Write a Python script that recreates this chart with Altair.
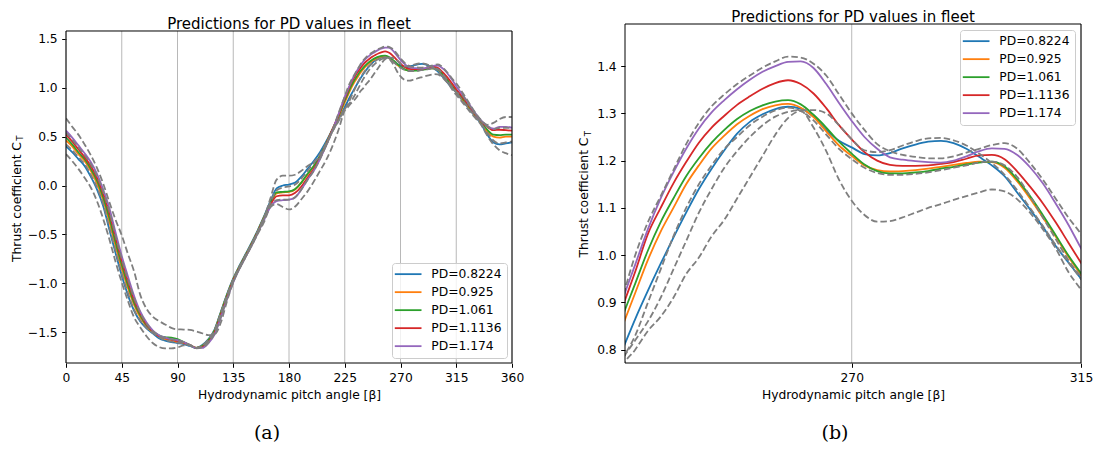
import altair as alt
import pandas as pd

# ---------------- data ----------------
angle = [0, 5, 10, 15, 20, 25, 30, 35, 40, 45, 50, 55, 60, 65, 70, 75, 80, 85, 90, 95,
         100, 105, 110, 115, 120, 125, 130, 135, 140, 145, 150, 155, 160, 165, 170, 175,
         180, 185, 190, 195, 200, 205, 210, 215, 220, 225,
         227.5, 230, 232.5, 235, 237.5, 240, 242.5, 245, 247.5, 250, 252.5, 255, 257.5,
         260, 262.5, 265, 267.5, 270, 272.5, 275, 277.5, 280, 282.5, 285, 287.5, 290,
         292.5, 295, 297.5, 300, 302.5, 305, 307.5, 310, 312.5, 315,
         320, 325, 330, 335, 340, 345, 350, 355, 360]

pd_08224 = [0.40, 0.34, 0.27, 0.20, 0.09, -0.04, -0.21, -0.45, -0.69, -0.92,
            -1.12, -1.28, -1.39, -1.46, -1.51, -1.56, -1.585, -1.60, -1.61, -1.62,
            -1.64, -1.66, -1.63, -1.57, -1.47, -1.29, -1.11, -0.95, -0.82, -0.70,
            -0.58, -0.45, -0.31, -0.16, -0.03, 0.00, 0.01, 0.03, 0.09, 0.17,
            0.25, 0.34, 0.45, 0.57, 0.68, 0.80,
            0.865, 0.925, 0.982, 1.037, 1.09, 1.14, 1.183, 1.222, 1.257, 1.282, 1.298, 1.309,
            1.314, 1.31, 1.293, 1.265, 1.242, 1.228, 1.214, 1.211, 1.216, 1.226, 1.234, 1.240,
            1.242, 1.237, 1.225, 1.208, 1.19, 1.167, 1.132, 1.097, 1.06, 1.02, 0.985, 0.95,
            0.87, 0.79, 0.71, 0.63, 0.52, 0.44, 0.42, 0.43, 0.44]

pd_0925 = [0.46, 0.40, 0.32, 0.25, 0.15, 0.02, -0.15, -0.37, -0.62, -0.85,
           -1.05, -1.22, -1.35, -1.44, -1.50, -1.54, -1.57, -1.58, -1.60, -1.61,
           -1.63, -1.66, -1.64, -1.58, -1.48, -1.30, -1.12, -0.96, -0.83, -0.71,
           -0.59, -0.46, -0.32, -0.19, -0.08, -0.07, -0.065, -0.04, 0.03, 0.11,
           0.20, 0.30, 0.43, 0.57, 0.70, 0.85,
           0.92, 0.99, 1.05, 1.10, 1.15, 1.19, 1.226, 1.253, 1.277, 1.295, 1.309, 1.317,
           1.320, 1.312, 1.292, 1.262, 1.232, 1.21, 1.19, 1.18, 1.177, 1.178, 1.180, 1.183,
           1.187, 1.191, 1.195, 1.198, 1.197, 1.185, 1.156, 1.12, 1.08, 1.04, 0.997, 0.958,
           0.88, 0.80, 0.72, 0.645, 0.55, 0.50, 0.49, 0.50, 0.50]

pd_1061 = [0.49, 0.42, 0.34, 0.27, 0.17, 0.05, -0.12, -0.33, -0.58, -0.81,
           -1.02, -1.20, -1.33, -1.43, -1.49, -1.53, -1.55, -1.555, -1.57, -1.60,
           -1.63, -1.66, -1.64, -1.58, -1.48, -1.30, -1.12, -0.96, -0.83, -0.71,
           -0.59, -0.46, -0.32, -0.18, -0.07, -0.065, -0.06, -0.035, 0.03, 0.12,
           0.20, 0.30, 0.43, 0.57, 0.71, 0.87,
           0.94, 1.01, 1.07, 1.12, 1.167, 1.205, 1.238, 1.265, 1.288, 1.305, 1.317, 1.325,
           1.328, 1.319, 1.297, 1.27, 1.24, 1.215, 1.192, 1.178, 1.173, 1.173, 1.175, 1.178,
           1.183, 1.187, 1.192, 1.196, 1.198, 1.188, 1.16, 1.125, 1.085, 1.043, 1.0, 0.962,
           0.89, 0.81, 0.725, 0.65, 0.57, 0.52, 0.515, 0.52, 0.52]

pd_11136 = [0.52, 0.45, 0.37, 0.29, 0.20, 0.08, -0.08, -0.28, -0.53, -0.77,
            -0.98, -1.17, -1.31, -1.42, -1.49, -1.54, -1.56, -1.575, -1.59, -1.605,
            -1.63, -1.66, -1.65, -1.60, -1.50, -1.32, -1.14, -0.97, -0.84, -0.72,
            -0.60, -0.47, -0.33, -0.20, -0.11, -0.10, -0.10, -0.075, -0.01, 0.08,
            0.17, 0.28, 0.42, 0.57, 0.72, 0.89,
            0.965, 1.045, 1.10, 1.152, 1.197, 1.238, 1.27, 1.295, 1.318, 1.336, 1.352, 1.364,
            1.370, 1.362, 1.342, 1.311, 1.275, 1.245, 1.218, 1.200, 1.191, 1.189, 1.189, 1.190,
            1.193, 1.197, 1.204, 1.211, 1.212, 1.203, 1.177, 1.145, 1.11, 1.07, 1.027, 0.984,
            0.905, 0.82, 0.73, 0.655, 0.60, 0.565, 0.57, 0.565, 0.56]

pd_1174 = [0.56, 0.49, 0.41, 0.33, 0.24, 0.12, -0.04, -0.23, -0.48, -0.72,
           -0.93, -1.13, -1.29, -1.40, -1.48, -1.53, -1.555, -1.57, -1.58, -1.60,
           -1.63, -1.66, -1.66, -1.61, -1.52, -1.35, -1.16, -0.99, -0.85, -0.73,
           -0.61, -0.48, -0.35, -0.22, -0.16, -0.15, -0.145, -0.12, -0.04, 0.06,
           0.15, 0.27, 0.41, 0.56, 0.73, 0.905,
           0.98, 1.055, 1.12, 1.175, 1.225, 1.268, 1.302, 1.328, 1.351, 1.371, 1.388, 1.400,
           1.409, 1.410, 1.396, 1.362, 1.322, 1.284, 1.25, 1.225, 1.207, 1.202, 1.199, 1.197,
           1.196, 1.200, 1.209, 1.220, 1.226, 1.225, 1.212, 1.186, 1.152, 1.11, 1.065, 1.015,
           0.93, 0.84, 0.745, 0.665, 0.61, 0.58, 0.60, 0.60, 0.59]

dash_upper = [0.687, 0.60, 0.52, 0.42, 0.31, 0.18, 0.02, -0.17, -0.35, -0.51,
              -0.70, -0.88, -1.12, -1.26, -1.34, -1.385, -1.42, -1.455, -1.47, -1.472,
              -1.476, -1.49, -1.51, -1.53, -1.52, -1.40, -1.18, -0.99, -0.85, -0.73,
              -0.61, -0.48, -0.33, -0.13, 0.06, 0.10, 0.10, 0.11, 0.15, 0.20,
              0.24, 0.30, 0.41, 0.56, 0.74, 0.91,
              1.0, 1.07, 1.125, 1.18, 1.235, 1.28, 1.315, 1.34, 1.362, 1.38, 1.397, 1.41,
              1.42, 1.418, 1.405, 1.38, 1.34, 1.30, 1.265, 1.235, 1.22, 1.212, 1.208, 1.205,
              1.205, 1.209, 1.217, 1.225, 1.233, 1.237, 1.225, 1.195, 1.16, 1.12, 1.08, 1.045,
              0.95, 0.85, 0.75, 0.67, 0.62, 0.64, 0.68, 0.70, 0.70]

dash_lower = [0.32, 0.25, 0.17, 0.08, -0.02, -0.16, -0.34, -0.55, -0.78, -0.99,
              -1.18, -1.35, -1.45, -1.54, -1.61, -1.65, -1.665, -1.665, -1.655, -1.635,
              -1.63, -1.665, -1.65, -1.60, -1.50, -1.33, -1.15, -0.98, -0.85, -0.73,
              -0.61, -0.49, -0.37, -0.22, -0.19, -0.22, -0.245, -0.215, -0.14, -0.06,
              0.04, 0.15, 0.26, 0.40, 0.57, 0.765,
              0.80, 0.84, 0.87, 0.91, 0.96, 0.995, 1.04, 1.075, 1.12, 1.165, 1.21, 1.255,
              1.29, 1.305, 1.27, 1.22, 1.16, 1.115, 1.085, 1.071, 1.072, 1.08, 1.09, 1.10,
              1.108, 1.117, 1.125, 1.133, 1.139, 1.135, 1.118, 1.09, 1.055, 1.015, 0.965, 0.927,
              0.85, 0.77, 0.695, 0.62, 0.51, 0.42, 0.36, 0.33, 0.31]

dash_mid_low = [0.42, 0.36, 0.29, 0.22, 0.11, -0.02, -0.19, -0.43, -0.67, -0.90,
                -1.10, -1.27, -1.38, -1.455, -1.505, -1.55, -1.58, -1.595, -1.605, -1.615,
                -1.635, -1.66, -1.635, -1.575, -1.475, -1.30, -1.12, -0.96, -0.83, -0.71,
                -0.59, -0.46, -0.32, -0.17, -0.05, -0.02, -0.01, 0.01, 0.07, 0.15,
                0.23, 0.32, 0.43, 0.55, 0.66, 0.78,
                0.82, 0.86, 0.91, 0.97, 1.03, 1.09, 1.14, 1.185, 1.22, 1.25, 1.275, 1.293,
                1.303, 1.307, 1.307, 1.30, 1.275, 1.245, 1.222, 1.218, 1.222, 1.232, 1.241, 1.247,
                1.248, 1.243, 1.232, 1.215, 1.195, 1.17, 1.137, 1.10, 1.062, 1.022, 0.985, 0.95,
                0.87, 0.79, 0.71, 0.635, 0.54, 0.46, 0.43, 0.44, 0.45]

dash_mid_high = [0.54, 0.47, 0.39, 0.31, 0.22, 0.10, -0.06, -0.26, -0.51, -0.75,
                 -0.96, -1.15, -1.30, -1.41, -1.485, -1.535, -1.56, -1.57, -1.585, -1.60,
                 -1.63, -1.66, -1.655, -1.605, -1.51, -1.34, -1.15, -0.98, -0.845, -0.725,
                 -0.605, -0.475, -0.34, -0.21, -0.15, -0.145, -0.145, -0.12, -0.04, 0.06,
                 0.15, 0.27, 0.41, 0.55, 0.66, 0.78,
                 0.83, 0.90, 0.97, 1.04, 1.10, 1.15, 1.19, 1.225, 1.25, 1.275, 1.293, 1.306,
                 1.312, 1.305, 1.285, 1.255, 1.225, 1.203, 1.185, 1.174, 1.170, 1.170, 1.172, 1.175,
                 1.18, 1.185, 1.19, 1.196, 1.198, 1.19, 1.165, 1.125, 1.08, 1.035, 0.99, 0.955,
                 0.92, 0.83, 0.74, 0.66, 0.605, 0.575, 0.59, 0.59, 0.585]

series_names = ["PD=0.8224", "PD=0.925", "PD=1.061", "PD=1.1136", "PD=1.174"]
series_colors = ["#1f77b4", "#ff7f0e", "#2ca02c", "#d62728", "#9467bd"]
a_ticks = [0, 45, 90, 135, 180, 225, 270, 315, 360]
a_yticks = [-1.5, -1.0, -0.5, 0.0, 0.5, 1.0, 1.5]
b_ticks = [270, 315]
b_yticks = [0.8, 0.9, 1.0, 1.1, 1.2, 1.3, 1.4]

# axis limits of the two panels (frame of each plot)
a_xlim = [0, 360]
a_ylim = [-1.814, 1.579]
b_xlim = [225.5, 315]
b_ylim = [0.772, 1.489]

pred_values = [pd_08224, pd_0925, pd_1061, pd_11136, pd_1174]
dash_values = [dash_upper, dash_lower, dash_mid_low, dash_mid_high]
for s in pred_values + dash_values:
    assert len(s) == len(angle), len(s)

pred_rows = []
for name, vals in zip(series_names, pred_values):
    for a, v in zip(angle, vals):
        pred_rows.append({"angle": a, "ct": v, "series": name})
df_pred = pd.DataFrame(pred_rows)

dash_rows = []
for i, vals in enumerate(dash_values):
    for a, v in zip(angle, vals):
        dash_rows.append({"angle": a, "ct": v, "curve": f"d{i}"})
df_dash = pd.DataFrame(dash_rows)

FONT = "DejaVu Sans"
TITLE = "Predictions for PD values in fleet"
XTITLE = "Hydrodynamic pitch angle [β]"
one = pd.DataFrame({"k": [0]})


def panel(xlim, ylim, ytop, xticks, yticks, w, h, legend_orient, legend_offset,
          caption, cap_x, cap_y, ytitle_x, ytitle_y, title_offset):
    x = alt.X("angle:Q",
              scale=alt.Scale(domain=xlim, nice=False, zero=False),
              axis=alt.Axis(values=xticks, title=XTITLE, format="d", grid=False,
                            labelFlush=False))
    y = alt.Y("ct:Q",
              scale=alt.Scale(domain=[ylim[0], ytop], nice=False, zero=False),
              axis=alt.Axis(values=yticks, format=".1f", title=None))

    vgrid = alt.Chart(pd.DataFrame({"angle": xticks})).mark_rule(
        color="#b0b0b0", strokeWidth=0.9
    ).encode(x=x, y=alt.datum(ylim[0]), y2=alt.datum(ylim[1]))

    frame = alt.Chart(pd.DataFrame({"angle": [xlim[0]], "angle2": [xlim[1]],
                                    "ct": [ylim[0]], "ct2": [ylim[1]]})).mark_rect(
        fillOpacity=0, stroke="black", strokeWidth=1
    ).encode(x=x, x2="angle2:Q", y=y, y2="ct2:Q")

    pred = alt.Chart(df_pred).mark_line(
        clip=True, interpolate="monotone", strokeWidth=1.8
    ).encode(
        x=x, y=y,
        color=alt.Color(
            "series:N", sort=series_names,
            scale=alt.Scale(domain=series_names, range=series_colors),
            legend=alt.Legend(
                title=None, orient=legend_orient, offset=legend_offset,
                symbolType="M-2.67,0H2.67", symbolSize=100, symbolStrokeWidth=1.8,
                symbolOffset=5, labelOffset=17,
                labelFont=FONT, labelFontSize=12.3, labelColor="black",
                fillColor="rgba(255,255,255,0.8)", strokeColor="#cccccc",
                cornerRadius=3, padding=5, rowPadding=5,
            ),
        ),
    )
    dashed = alt.Chart(df_dash).mark_line(
        clip=True, interpolate="monotone", strokeWidth=1.8,
        strokeDash=[6.5, 3], color="#7f7f7f"
    ).encode(x=x, y=y, detail="curve:N")

    ytitle = alt.Chart(one).mark_text(
        text="Thrust coefficient C", angle=270, font=FONT, fontSize=12.3,
        align="center", baseline="middle", color="black"
    ).encode(x=alt.value(ytitle_x), y=alt.value(ytitle_y))
    ysub = alt.Chart(one).mark_text(
        text="T", angle=270, font=FONT, fontSize=8.6,
        align="center", baseline="middle", color="black"
    ).encode(x=alt.value(ytitle_x + 3.5), y=alt.value(ytitle_y - 64))
    cap = alt.Chart(one).mark_text(
        text=caption, font="DejaVu Serif", fontSize=19,
        align="center", baseline="middle", color="black"
    ).encode(x=alt.value(cap_x), y=alt.value(cap_y))

    return alt.layer(vgrid, pred, dashed, frame, ytitle, ysub, cap).properties(
        width=w, height=h,
        title=alt.TitleParams(TITLE, font=FONT, fontSize=15, fontWeight="normal",
                              color="black", offset=title_offset, anchor="middle"),
    )


# panel (a): its frame starts 7 px below the common top of the row
pa = panel(a_xlim, a_ylim, 1.6505, a_ticks, a_yticks, 446, 339,
           "bottom-right", 5, "(a)", 201, 409, -49.5, 178, -8)
pb = panel(b_xlim, b_ylim, b_ylim[1], b_ticks, b_yticks, 456, 339,
           "top-right", 6, "(b)", 210, 409, -40.6, 173.5, -1)

chart = alt.hconcat(pa, pb, spacing=54).resolve_scale(
    color="independent", x="independent", y="independent"
).resolve_legend(color="independent").configure(
    padding={"left": 2, "top": 1, "right": 0, "bottom": 0}, font=FONT
).configure_view(
    stroke=None
).configure_axis(
    gridColor="#b0b0b0", gridWidth=0.9, domain=False,
    tickColor="black", tickSize=4.3, tickWidth=1,
    labelFont=FONT, labelFontSize=12.3, labelColor="black", labelPadding=4.5,
    titleFont=FONT, titleFontSize=12.3, titleFontWeight="normal", titleColor="black",
    titlePadding=4
)

chart.save("out.html", embed_options={"renderer": "svg", "actions": False})
